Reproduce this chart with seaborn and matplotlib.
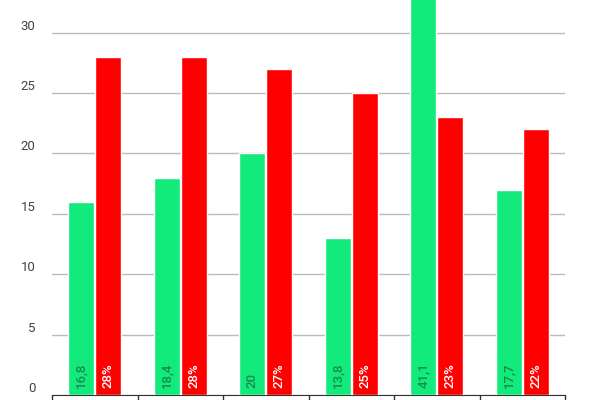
import pandas as pd
import matplotlib
matplotlib.use('Agg')
import matplotlib.pyplot as plt
import seaborn as sns

groups = ['A', 'B', 'C', 'D', 'E', 'F']
green_vals = [16, 18, 20, 13, 41, 17]
red_vals = [28, 28, 27, 25, 23, 22]
green_labels = ['16,8', '18,4', '20', '13,8', '41,1', '17,7']
red_labels = ['28%', '28%', '27%', '25%', '23%', '22%']

df = pd.DataFrame({
    'group': groups * 2,
    'value': green_vals + red_vals,
    'serie': ['g'] * 6 + ['r'] * 6,
})

sns.set_style('white')
plt.rcParams['font.family'] = ['Roboto', 'DejaVu Sans']

fig = plt.figure(figsize=(6, 4), dpi=100)
ax = fig.add_axes([52 / 600, 5 / 400, 513 / 600, 395 / 400])
sns.barplot(data=df, x='group', y='value', hue='serie', palette={'g': '#13EA7C', 'r': '#FF0000'},
            saturation=1, width=0.63, gap=0.05, legend=False, ax=ax, zorder=3)

ax.set_ylim(0, 32.7)
ax.set_xlim(-0.5, 5.5)
ax.set_yticks([0, 5, 10, 15, 20, 25, 30])
ax.yaxis.grid(True, color='#bbbbbb', linewidth=1, zorder=0)
ax.tick_params(axis='y', length=0, labelsize=9.5, labelcolor='#444444', pad=12)
for t in ax.get_yticklabels():
    t.set_verticalalignment('bottom')
ax.set_xticks([i - 0.5 for i in range(7)])
ax.set_xticklabels([])
ax.tick_params(axis='x', bottom=True, length=6, width=1, color='#333333', direction='out')
for s in ['top', 'right', 'left']:
    ax.spines[s].set_visible(False)
ax.spines['bottom'].set_color('#333333')
ax.set_xlabel('')
ax.set_ylabel('')

for bar, lab in zip(ax.patches[:6], green_labels):
    ax.text(bar.get_x() + bar.get_width() / 2, 0.6, lab, rotation=90, ha='center', va='bottom',
            fontsize=9.5, fontweight='medium', color='#168a4c', zorder=4)
for bar, lab in zip(ax.patches[6:12], red_labels):
    ax.text(bar.get_x() + bar.get_width() / 2, 0.6, lab, rotation=90, ha='center', va='bottom',
            fontsize=9.5, fontweight='medium', color='white', zorder=4)

fig.savefig('out.png', dpi=100)
